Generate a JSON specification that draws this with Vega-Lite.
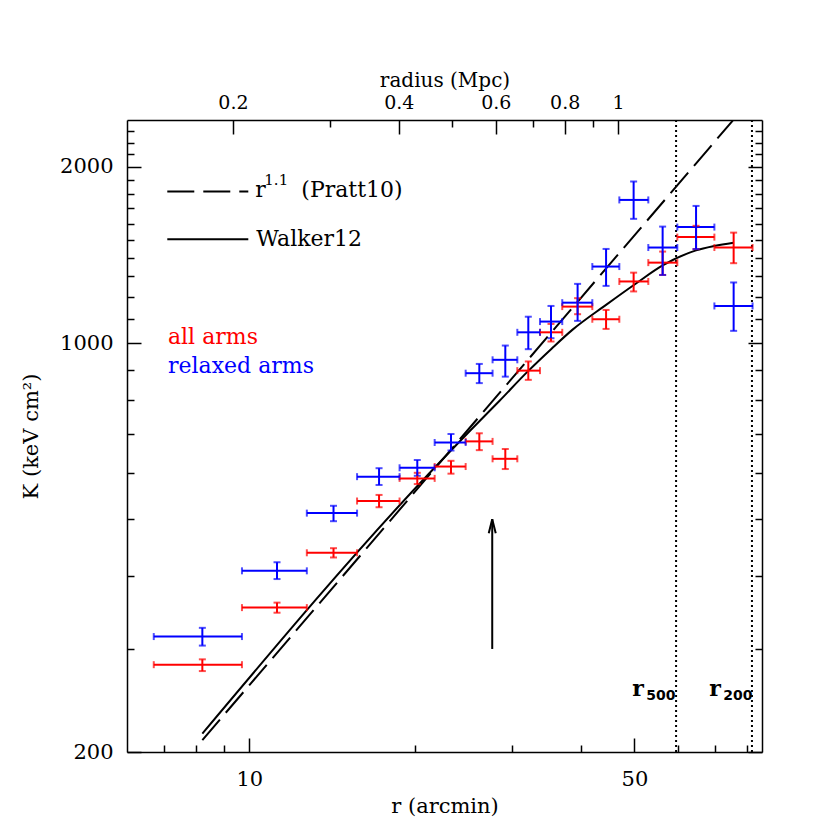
{
"$schema":"https://vega.github.io/schema/vega-lite/v6.json",
"width":635,"height":632,
"autosize":{"type":"none"},
"padding":{"left":127,"top":120,"right":68,"bottom":78},
"background":"white",
"config":{
  "view":{"stroke":null},
  "font":"DejaVu Serif",
  "axis":{"grid":false,"domainColor":"black","domainWidth":1.5,"tickColor":"black","tickWidth":1.5,"labelColor":"black","titleColor":"black","labelFont":"DejaVu Serif","titleFont":"DejaVu Serif","labelFontSize":21,"titleFontSize":21,"titleFontWeight":"normal","labelOverlap":false,"labelFlush":false}
},
"datasets":{
  "profiles":[
    {"set":"all","r":8.22,"rlo":6.71,"rhi":9.70,"K":282,"Klo":275,"Khi":288},
    {"set":"all","r":11.23,"rlo":9.70,"rhi":12.72,"K":353,"Klo":346,"Khi":360},
    {"set":"all","r":14.22,"rlo":12.72,"rhi":15.69,"K":438,"Klo":430,"Khi":446},
    {"set":"all","r":17.20,"rlo":15.69,"rhi":18.74,"K":537,"Klo":524,"Khi":550},
    {"set":"all","r":20.18,"rlo":18.74,"rhi":21.70,"K":587,"Klo":574,"Khi":600},
    {"set":"all","r":23.23,"rlo":21.70,"rhi":24.70,"K":615,"Klo":598,"Khi":629},
    {"set":"all","r":26.15,"rlo":24.70,"rhi":27.64,"K":679,"Klo":656,"Khi":701},
    {"set":"all","r":29.15,"rlo":27.64,"rhi":30.65,"K":634,"Klo":609,"Khi":659},
    {"set":"all","r":32.09,"rlo":30.65,"rhi":33.70,"K":897,"Klo":865,"Khi":930},
    {"set":"all","r":35.28,"rlo":33.70,"rhi":36.98,"K":1043,"Klo":1006,"Khi":1078},
    {"set":"all","r":39.43,"rlo":36.98,"rhi":41.93,"K":1154,"Klo":1120,"Khi":1193},
    {"set":"all","r":44.41,"rlo":41.93,"rhi":46.94,"K":1098,"Klo":1057,"Khi":1139},
    {"set":"all","r":49.83,"rlo":46.94,"rhi":52.98,"K":1274,"Klo":1225,"Khi":1319},
    {"set":"all","r":56.25,"rlo":52.98,"rhi":59.81,"K":1372,"Klo":1307,"Khi":1433},
    {"set":"all","r":64.68,"rlo":59.81,"rhi":69.83,"K":1517,"Klo":1447,"Khi":1586},
    {"set":"all","r":75.68,"rlo":69.83,"rhi":81.91,"K":1456,"Klo":1369,"Khi":1544},
    {"set":"relaxed","r":8.22,"rlo":6.71,"rhi":9.70,"K":315,"Klo":304,"Khi":326},
    {"set":"relaxed","r":11.23,"rlo":9.70,"rhi":12.72,"K":408,"Klo":395,"Khi":422},
    {"set":"relaxed","r":14.22,"rlo":12.72,"rhi":15.69,"K":512,"Klo":496,"Khi":527},
    {"set":"relaxed","r":17.20,"rlo":15.69,"rhi":18.74,"K":591,"Klo":572,"Khi":611},
    {"set":"relaxed","r":20.18,"rlo":18.74,"rhi":21.70,"K":612,"Klo":593,"Khi":631},
    {"set":"relaxed","r":23.23,"rlo":21.70,"rhi":24.70,"K":676,"Klo":655,"Khi":699},
    {"set":"relaxed","r":26.15,"rlo":24.70,"rhi":27.64,"K":888,"Klo":854,"Khi":921},
    {"set":"relaxed","r":29.15,"rlo":27.64,"rhi":30.65,"K":936,"Klo":876,"Khi":990},
    {"set":"relaxed","r":32.09,"rlo":30.65,"rhi":33.70,"K":1043,"Klo":976,"Khi":1109},
    {"set":"relaxed","r":35.28,"rlo":33.70,"rhi":36.98,"K":1088,"Klo":1019,"Khi":1157},
    {"set":"relaxed","r":39.43,"rlo":36.98,"rhi":41.93,"K":1172,"Klo":1091,"Khi":1262},
    {"set":"relaxed","r":44.41,"rlo":41.93,"rhi":46.94,"K":1351,"Klo":1252,"Khi":1448},
    {"set":"relaxed","r":49.83,"rlo":46.94,"rhi":52.98,"K":1756,"Klo":1630,"Khi":1888},
    {"set":"relaxed","r":56.25,"rlo":52.98,"rhi":59.81,"K":1456,"Klo":1307,"Khi":1581},
    {"set":"relaxed","r":64.68,"rlo":59.81,"rhi":69.83,"K":1578,"Klo":1447,"Khi":1715},
    {"set":"relaxed","r":75.68,"rlo":69.83,"rhi":81.91,"K":1157,"Klo":1049,"Khi":1269}
  ],
  "walker":[
    {"r":8.22,"K":215},{"r":21.22,"K":599},{"r":25.08,"K":706},{"r":28.43,"K":796},
    {"r":32.09,"K":896},{"r":35.33,"K":977},{"r":38.57,"K":1053},{"r":44.41,"K":1162},
    {"r":50.33,"K":1264},{"r":56.25,"K":1357},{"r":64.68,"K":1440},{"r":69.83,"K":1465},
    {"r":75.68,"K":1484}
  ],
  "pratt":[{"r":8.22,"K":209.6},{"r":75.4,"K":2400}],
  "radii":[{"name":"r500","r":59.5},{"name":"r200","r":81.7}],
  "arrow":[{"r":27.6,"Kfrom":300,"Kto":500}],
  "legendLines":[
    {"model":"Pratt10","r":7.10,"K":1815},{"model":"Pratt10","r":9.96,"K":1815},
    {"model":"Walker12","r":7.10,"K":1504},{"model":"Walker12","r":9.96,"K":1504}
  ],
  "textMain":[
    {"label":"r","r":10.25,"K":1775},
    {"label":"(Pratt10)","r":12.43,"K":1775},
    {"label":"Walker12","r":10.30,"K":1467}
  ],
  "textSup":[{"label":"1.1","r":10.65,"K":1863}],
  "textArms":[
    {"label":"all arms","set":"all","r":7.12,"K":997},
    {"label":"relaxed arms","set":"relaxed","r":7.12,"K":888}
  ],
  "textR":[{"label":"r","r":49.55,"K":249.6},{"label":"r","r":68.37,"K":249.6}],
  "textSub":[{"label":"500","r":52.55,"K":245.4},{"label":"200","r":72.5,"K":245.4}]
},
"resolve":{"scale":{"x":"independent","y":"independent"}},
"layer":[
   {"data":{"name":"walker"},
    "mark":{"type":"line","color":"black","strokeWidth":2,"interpolate":"monotone"},
    "encoding":{
      "x":{"field":"r","type":"quantitative","scale":{"type":"log","domain":[6,85.2]},
        "axis":{"orient":"bottom","values":[7,8,9,10,20,30,40,50,60,70,80],
          "labelExpr":"datum.value==10?'10':datum.value==50?'50':''",
          "tickSize":{"condition":{"test":"datum.value==10||datum.value==50","value":-14},"value":-7},
          "labelPadding":30,"title":"r (arcmin)","titleY":54,"titleBaseline":"middle"}},
      "y":{"field":"K","type":"quantitative","scale":{"type":"log","domain":[200,2405]},
        "axis":{"orient":"left","values":[200,300,400,500,600,700,800,900,1000,1100,1200,1300,1400,1500,1600,1700,1800,1900,2000,2100,2200,2300],
          "labelExpr":"datum.value==200?'200':datum.value==1000?'1000':datum.value==2000?'2000':''",
          "tickSize":{"condition":{"test":"datum.value==200||datum.value==1000||datum.value==2000","value":-14},"value":-7},
          "labelPadding":28,"title":"K (keV cm²)","titleX":-96,"titleY":316,"titleAngle":-90,"titleAlign":"center","titleBaseline":"middle"}}
    }},
   {"data":{"values":[{"mpc":0.5,"K":500}]},
    "mark":{"type":"point","opacity":0},
    "encoding":{
      "x":{"field":"mpc","type":"quantitative","scale":{"type":"log","domain":[0.12848,1.8244]},
        "axis":{"orient":"top","values":[0.2,0.3,0.4,0.5,0.6,0.7,0.8,0.9,1],
          "labelExpr":"datum.value==0.2?'0.2':datum.value==0.4?'0.4':datum.value==0.6?'0.6':datum.value==0.8?'0.8':datum.value==1?'1':''",
          "tickSize":{"condition":{"test":"datum.value==0.2||datum.value==0.4||datum.value==0.6||datum.value==0.8||datum.value==1","value":-14},"value":-7},
          "labelPadding":22,"labelFontSize":19,"title":"radius (Mpc)","titleFontSize":20,"titleY":-40,"titleBaseline":"middle"}},
      "y":{"field":"K","type":"quantitative","scale":{"type":"log","domain":[200,2405]},
        "axis":{"orient":"right","values":[200,300,400,500,600,700,800,900,1000,1100,1200,1300,1400,1500,1600,1700,1800,1900,2000,2100,2200,2300],
          "labels":false,
          "tickSize":{"condition":{"test":"datum.value==200||datum.value==1000||datum.value==2000","value":-14},"value":-7},
          "title":null}}
    }},
   {"data":{"name":"pratt"},
    "mark":{"type":"line","color":"black","strokeWidth":2,"strokeDash":[27,9]},
    "encoding":{
      "x":{"field":"r","type":"quantitative","scale":{"type":"log","domain":[6,85.2]},"axis":null},
      "y":{"field":"K","type":"quantitative","scale":{"type":"log","domain":[200,2405]},"axis":null}
    }},
   {"data":{"name":"legendLines"},
    "transform":[{"filter":"datum.model=='Pratt10'"}],
    "mark":{"type":"line","color":"black","strokeWidth":2,"strokeDash":[27,9]},
    "encoding":{
      "x":{"field":"r","type":"quantitative","scale":{"type":"log","domain":[6,85.2]},"axis":null},
      "y":{"field":"K","type":"quantitative","scale":{"type":"log","domain":[200,2405]},"axis":null}
    }},
   {"data":{"name":"legendLines"},
    "transform":[{"filter":"datum.model=='Walker12'"}],
    "mark":{"type":"line","color":"black","strokeWidth":2},
    "encoding":{
      "x":{"field":"r","type":"quantitative","scale":{"type":"log","domain":[6,85.2]},"axis":null},
      "y":{"field":"K","type":"quantitative","scale":{"type":"log","domain":[200,2405]},"axis":null}
    }},
   {"data":{"name":"radii"},
    "mark":{"type":"rule","color":"black","strokeWidth":2,"strokeDash":[2,3]},
    "encoding":{
      "x":{"field":"r","type":"quantitative","scale":{"type":"log","domain":[6,85.2]},"axis":null}
    }},
   {"data":{"name":"arrow"},
    "mark":{"type":"rule","color":"black","strokeWidth":2},
    "encoding":{
      "x":{"field":"r","type":"quantitative","scale":{"type":"log","domain":[6,85.2]},"axis":null},
      "y":{"field":"Kfrom","type":"quantitative","scale":{"type":"log","domain":[200,2405]},"axis":null},
      "y2":{"field":"Kto"}
    }},
   {"data":{"name":"arrow"},
    "mark":{"type":"point","shape":"M-0.5,2L0,0L0.5,2","size":196,"filled":false,"stroke":"black","strokeWidth":2,"opacity":1},
    "encoding":{
      "x":{"field":"r","type":"quantitative","scale":{"type":"log","domain":[6,85.2]},"axis":null},
      "y":{"field":"Kto","type":"quantitative","scale":{"type":"log","domain":[200,2405]},"axis":null}
    }},
   {"data":{"name":"profiles"},
    "mark":{"type":"errorbar","ticks":{"size":7},"thickness":2},
    "encoding":{
      "x":{"field":"rlo","type":"quantitative","scale":{"type":"log","domain":[6,85.2]},"axis":null},
      "x2":{"field":"rhi"},
      "y":{"field":"K","type":"quantitative","scale":{"type":"log","domain":[200,2405]},"axis":null},
      "color":{"field":"set","type":"nominal","scale":{"domain":["all","relaxed"],"range":["#ff0000","#0000ff"]},"legend":null}
    }},
   {"data":{"name":"profiles"},
    "mark":{"type":"errorbar","ticks":{"size":7},"thickness":2},
    "encoding":{
      "x":{"field":"r","type":"quantitative","scale":{"type":"log","domain":[6,85.2]},"axis":null},
      "y":{"field":"Klo","type":"quantitative","scale":{"type":"log","domain":[200,2405]},"axis":null},
      "y2":{"field":"Khi"},
      "color":{"field":"set","type":"nominal","scale":{"domain":["all","relaxed"],"range":["#ff0000","#0000ff"]},"legend":null}
    }},
   {"data":{"name":"textMain"},
    "mark":{"type":"text","font":"DejaVu Serif","fontSize":22,"align":"left","baseline":"alphabetic","color":"black"},
    "encoding":{
      "x":{"field":"r","type":"quantitative","scale":{"type":"log","domain":[6,85.2]},"axis":null},
      "y":{"field":"K","type":"quantitative","scale":{"type":"log","domain":[200,2405]},"axis":null},
      "text":{"field":"label"}
    }},
   {"data":{"name":"textSup"},
    "mark":{"type":"text","font":"DejaVu Serif","fontSize":15,"align":"left","baseline":"alphabetic","color":"black"},
    "encoding":{
      "x":{"field":"r","type":"quantitative","scale":{"type":"log","domain":[6,85.2]},"axis":null},
      "y":{"field":"K","type":"quantitative","scale":{"type":"log","domain":[200,2405]},"axis":null},
      "text":{"field":"label"}
    }},
   {"data":{"name":"textArms"},
    "mark":{"type":"text","font":"DejaVu Serif","fontSize":22,"align":"left","baseline":"alphabetic"},
    "encoding":{
      "x":{"field":"r","type":"quantitative","scale":{"type":"log","domain":[6,85.2]},"axis":null},
      "y":{"field":"K","type":"quantitative","scale":{"type":"log","domain":[200,2405]},"axis":null},
      "text":{"field":"label"},
      "color":{"field":"set","type":"nominal","scale":{"domain":["all","relaxed"],"range":["#ff0000","#0000ff"]},"legend":null}
    }},
   {"data":{"name":"textR"},
    "mark":{"type":"text","font":"DejaVu Serif","fontSize":22,"fontWeight":"bold","align":"left","baseline":"alphabetic","color":"black"},
    "encoding":{
      "x":{"field":"r","type":"quantitative","scale":{"type":"log","domain":[6,85.2]},"axis":null},
      "y":{"field":"K","type":"quantitative","scale":{"type":"log","domain":[200,2405]},"axis":null},
      "text":{"field":"label"}
    }},
   {"data":{"name":"textSub"},
    "mark":{"type":"text","font":"DejaVu Sans","fontSize":14,"fontWeight":"bold","align":"left","baseline":"alphabetic","color":"black"},
    "encoding":{
      "x":{"field":"r","type":"quantitative","scale":{"type":"log","domain":[6,85.2]},"axis":null},
      "y":{"field":"K","type":"quantitative","scale":{"type":"log","domain":[200,2405]},"axis":null},
      "text":{"field":"label"}
    }}
]
}
